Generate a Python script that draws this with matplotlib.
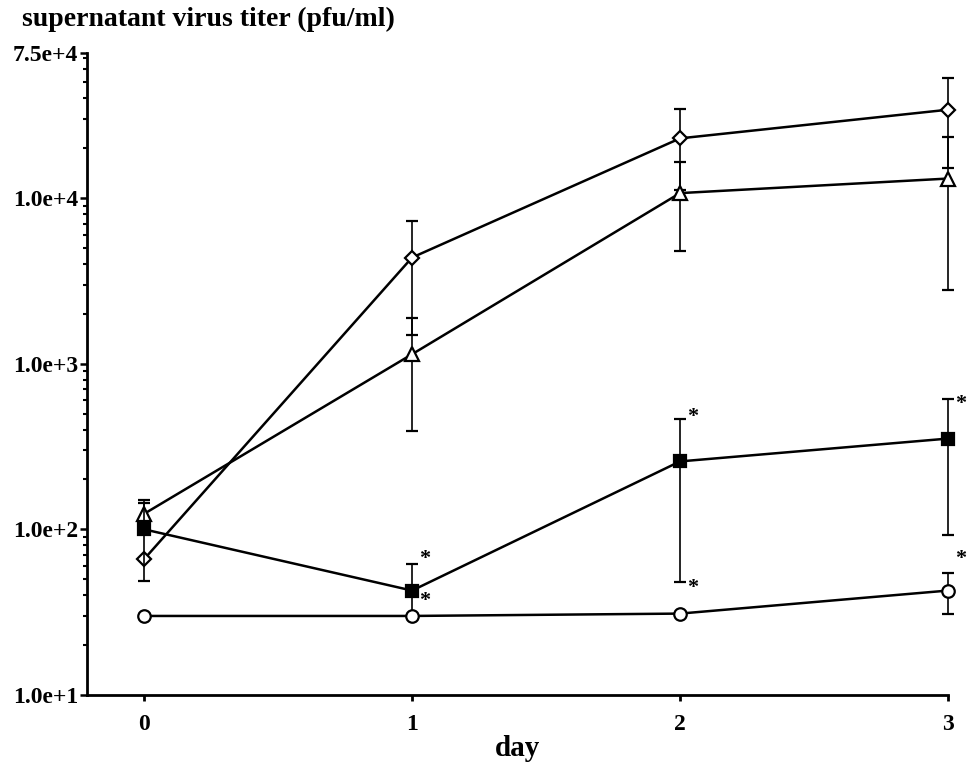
import matplotlib
matplotlib.use('Agg')
import matplotlib.pyplot as plt
from matplotlib.ticker import FixedLocator, LogLocator, NullFormatter

# values (pfu/ml)
days = [0, 1, 2, 3]
diamond = [66, 4370, 22900, 34100]
diamond_err = [0, 2880, 11700, 19000]
triangle = [124, 1140, 10700, 13100]
triangle_err = [20, 750, 5900, 10300]
square = [100, 42.7, 257, 353]
square_err_lo = [51, 12.7, 209, 261]
square_err_hi = [51, 19, 209, 261]
circle = [30, 30, 31, 42.7]
circle_err = [0, 0, 0, 12]

# asterisks (day, height)
star_days = [1, 1, 2, 2, 3, 3]
star_vals = [66, 37, 478, 44.5, 573, 66]

y_ticks = [1e1, 1e2, 1e3, 1e4, 7.5e4]
y_labels = ['1.0e+1', '1.0e+2', '1.0e+3', '1.0e+4', '7.5e+4']

plt.rcParams['font.family'] = ['Liberation Serif', 'DejaVu Serif']
plt.rcParams['font.weight'] = 'bold'

fig = plt.figure(figsize=(9.71, 7.66), dpi=100)
ax = fig.add_axes([87/971, 1 - 695/766, (948 - 87)/971, (695 - 53)/766])

series = [
    (diamond, diamond_err, 'D', 'white', 7),
    (triangle, triangle_err, '^', 'white', 9.5),
    (square, [square_err_lo, square_err_hi], 's', 'black', 8.5),
    (circle, circle_err, 'o', 'white', 9),
]
for z, (vals, err, mk, fc, ms) in enumerate(series):
    eb = ax.errorbar(days, vals, yerr=err, color='black', lw=1.8,
                     marker=mk, ms=ms, mfc=fc, mec='black', mew=1.6,
                     ecolor='black', elinewidth=1.2, capsize=4.5,
                     capthick=1.2, clip_on=False, zorder=3 + z)
    for art in eb.lines[1]:
        art.set_clip_on(False)
    for art in eb.lines[2]:
        art.set_clip_on(False)

for d, v in zip(star_days, star_vals):
    ax.text(d + 0.025, v, '*', fontsize=16, ha='left', va='center',
            fontweight='bold')

ax.set_yscale('log')
ax.set_xlim(-0.213, 3.0)
ax.set_ylim(10, 7.5e4)
ax.yaxis.set_major_locator(FixedLocator(y_ticks))
ax.set_yticklabels(y_labels, fontsize=17, fontweight='bold')
ax.yaxis.set_minor_locator(LogLocator(base=10, subs=range(2, 10)))
ax.yaxis.set_minor_formatter(NullFormatter())
ax.set_xticks(days)
ax.set_xticklabels([str(d) for d in days], fontsize=17, fontweight='bold')

ax.spines['top'].set_visible(False)
ax.spines['right'].set_visible(False)
ax.spines['left'].set_linewidth(2)
ax.spines['bottom'].set_linewidth(2)
ax.tick_params(axis='y', which='major', direction='out', length=5, width=1.8, pad=1.5)
ax.tick_params(axis='y', which='minor', direction='out', length=3, width=1.5)
ax.tick_params(axis='x', which='major', direction='out', length=4, width=2, pad=10)

ax.set_xlabel('day', fontsize=21, fontweight='bold', labelpad=0)
fig.text(22/971, 1 - 19/766, 'supernatant virus titer (pfu/ml)', fontsize=20,
         fontweight='bold', ha='left', va='center')

fig.savefig('out.png', dpi=100)
